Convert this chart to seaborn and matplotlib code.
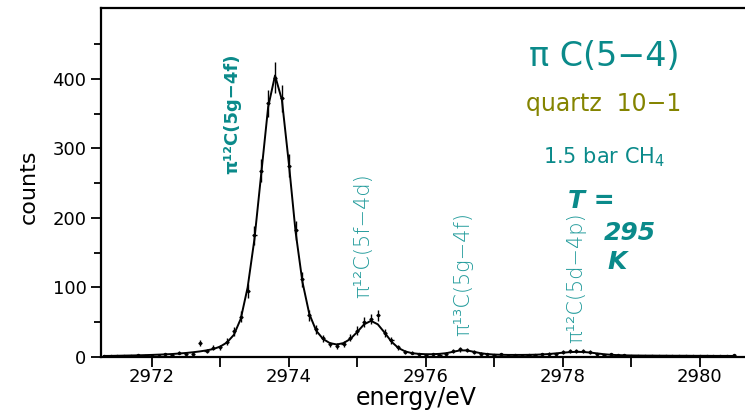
import numpy as np
import pandas as pd
import matplotlib
matplotlib.use('Agg')
import matplotlib.pyplot as plt
import seaborn as sns

# measured spectrum, 0.1 eV bins from 2971.3 to 2980.5 eV
energy = np.round(np.arange(2971.3, 2980.55, 0.1), 2)

counts = [2, 1, 2, 1, 2, 3, 2,
          2, 1, 4, 3, 6, 5, 4, 20, 9, 13,
          14, 22, 37, 58, 95, 175, 268, 365, 402, 372,
          275, 182, 112, 60, 40, 27, 18, 16, 19, 28,
          38, 50, 55, 60, 34, 24, 14, 7, 6, 4,
          3, 4, 3, 5, 8, 11, 10, 7, 5, 4,
          3, 4, 2, 3, 2, 3, 3, 4, 5, 4,
          7, 8, 8, 9, 7, 4, 3, 4, 3, 3,
          2, 1, 2, 2, 1, 2, 1, 2, 1, 2,
          1, 2, 1, 1, 2, 3]

errors = [1.4, 1.0, 1.4, 1.0, 1.4, 1.7, 1.4,
          1.4, 1.0, 2.0, 1.7, 2.4, 2.2, 2.0, 4.5, 3.0, 3.6,
          3.7, 4.7, 6.1, 7.6, 9.7, 13.2, 16.4, 19.1, 22.0, 19.3,
          16.6, 13.5, 10.6, 7.7, 6.3, 5.2, 4.2, 4.0, 4.4, 5.3,
          6.2, 7.1, 7.4, 7.7, 5.8, 4.9, 3.7, 2.6, 2.4, 2.0,
          1.7, 2.0, 1.7, 2.2, 2.8, 3.3, 3.2, 2.6, 2.2, 2.0,
          1.7, 2.0, 1.4, 1.7, 1.4, 1.7, 1.7, 2.0, 2.2, 2.0,
          2.6, 2.8, 2.8, 3.0, 2.6, 2.0, 1.7, 2.0, 1.7, 1.7,
          1.4, 1.0, 1.4, 1.4, 1.0, 1.4, 1.0, 1.4, 1.0, 1.4,
          1.0, 1.4, 1.0, 1.0, 1.4, 1.7]

# fitted line shape at the same energies
fit = [1.5, 1.6, 1.8, 2.0, 2.2, 2.4, 2.7,
       3.0, 3.4, 3.8, 4.3, 5.0, 5.8, 6.8, 8.0, 9.5, 11.5,
       15, 21, 32, 55, 100, 170, 265, 360, 405, 370,
       280, 180, 108, 62, 38, 26, 20, 18, 20, 26,
       36, 47, 52, 47, 35, 22, 13, 8, 5.5, 4.5,
       4.0, 4.0, 4.5, 5.5, 7.5, 9.5, 9.5, 7.5, 5.5, 4.2,
       3.5, 3.2, 3.0, 3.0, 3.0, 3.1, 3.3, 3.7, 4.3, 5.2,
       6.2, 7.0, 7.4, 7.2, 6.4, 5.2, 4.0, 3.2, 2.7, 2.4,
       2.2, 2.1, 2.0, 2.0, 1.9, 1.9, 1.8, 1.8, 1.8, 1.7,
       1.7, 1.7, 1.6, 1.6, 1.6, 1.5]

x_ticks = [2972, 2974, 2976, 2978, 2980]
y_ticks = [0, 100, 200, 300, 400]

teal = '#0a8a8a'
light_teal = '#1f9a9a'
olive = '#848400'

df = pd.DataFrame({'energy': energy, 'counts': counts, 'err': errors, 'fit': fit})

sns.set_style('ticks')
plt.rcParams['font.family'] = ['DejaVu Sans']

fig = plt.figure(figsize=(7.45, 4.11), dpi=100)
ax = fig.add_axes([0.1356, 0.1314, 0.8644, 0.849])

sns.lineplot(data=df, x='energy', y='fit', color='black', linewidth=1.4, ax=ax)
ax.errorbar(df['energy'], df['counts'], yerr=df['err'], xerr=0.03,
            fmt='none', ecolor='black', elinewidth=1.0)
sns.scatterplot(data=df, x='energy', y='counts', color='black', s=6,
                linewidth=0, ax=ax)

ax.set_xlim(2971.26, 2980.66)
ax.set_ylim(0, 502)
ax.set_xticks(x_ticks)
ax.set_xticks([2973, 2975, 2977, 2979], minor=True)
ax.set_yticks(y_ticks)
ax.set_yticks([50, 150, 250, 350, 450], minor=True)
ax.tick_params(which='major', length=7, width=1.3, labelsize=13, direction='out',
               colors='black')
ax.tick_params(axis='x', which='major', pad=1)
ax.tick_params(which='minor', length=5, width=1.3, direction='out', colors='black')
ax.tick_params(axis='x', which='minor', length=7)
for s in ['left', 'bottom', 'top']:
    ax.spines[s].set_linewidth(1.6)
    ax.spines[s].set_color('black')
ax.spines['right'].set_visible(False)

ax.set_xlabel('energy/eV', fontsize=17, color='black', va='baseline')
ax.xaxis.set_label_coords(0.49, -0.137)
ax.set_ylabel('counts', fontsize=16, color='black', va='center')
ax.yaxis.set_label_coords(-0.112, 0.487)

# peak labels
ax.text(2973.17, 436, 'π¹²C(5g−4f)', rotation=90, color=teal, fontsize=13,
        fontweight='bold', ha='center', va='top')
ax.text(2975.08, 265, 'π¹²C(5f−4d)', rotation=90, color=light_teal,
        fontsize=15, fontweight='light', ha='center', va='top')
ax.text(2976.55, 208, 'π¹³C(5g−4f)', rotation=90, color=light_teal,
        fontsize=15, fontweight='light', ha='center', va='top')
ax.text(2978.19, 208, 'π¹²C(5d−4p)', rotation=90, color=light_teal,
        fontsize=15, fontweight='light', ha='center', va='top')

# run info
ax.text(2978.6, 433, 'π C(5−4)', color=teal, fontsize=24, ha='center', va='center')
ax.text(2978.6, 364, 'quartz  10−1', color=olive, fontsize=17, ha='center', va='center')
ax.text(2978.6, 287, '1.5 bar CH$_4$', color=teal, fontsize=15, ha='center', va='center')
ax.text(2978.07, 224, 'T =', color=teal, fontsize=18, fontweight='bold',
        style='italic', ha='left', va='center')
ax.text(2978.6, 179, '295', color=teal, fontsize=18, fontweight='bold',
        style='italic', ha='left', va='center')
ax.text(2978.65, 136, 'K', color=teal, fontsize=18, fontweight='bold',
        style='italic', ha='left', va='center')

fig.savefig('out.png', dpi=100)
